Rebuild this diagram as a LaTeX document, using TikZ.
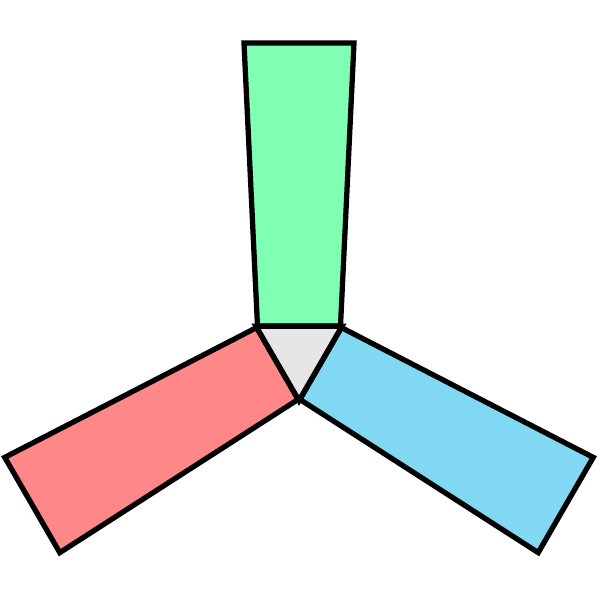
\documentclass[tikz,border=0pt]{standalone}
\usepackage{tikz}

\definecolor{armgreen}{RGB}{128,255,180}
\definecolor{armred}{RGB}{255,135,135}
\definecolor{armblue}{RGB}{128,216,242}
\definecolor{hubgray}{RGB}{230,230,230}

\begin{document}
\begin{tikzpicture}[
	x=0.02cm, y=-0.02cm,
	arm/.style={draw, line width=3pt, line join=miter},
	hub/.style={draw, line width=3pt, fill=hubgray},
]
	\useasboundingbox (0,0) rectangle (600,600);

	% centre of the hub
	\coordinate (c) at (299,351);

	\begin{scope}[shift={(c)}]
		% arms (one shape, turned by 120 degrees)
		\foreach \ang/\col in {0/armgreen, 120/armred, -120/armblue} {
			\begin{scope}[rotate=\ang]
				\draw[arm, fill=\col] (-41.5,-25) -- (-55,-308) -- (55,-308) -- (41.5,-25) -- cycle;
			\end{scope}
		}

		% hub (triangle)
		\coordinate (hl) at (-43,-24.8);
		\coordinate (hr) at (43,-24.8);
		\coordinate (hb) at (0,49.6);
		\draw[hub] (hl) -- (hr) -- (hb) -- cycle;
	\end{scope}
\end{tikzpicture}
\end{document}
